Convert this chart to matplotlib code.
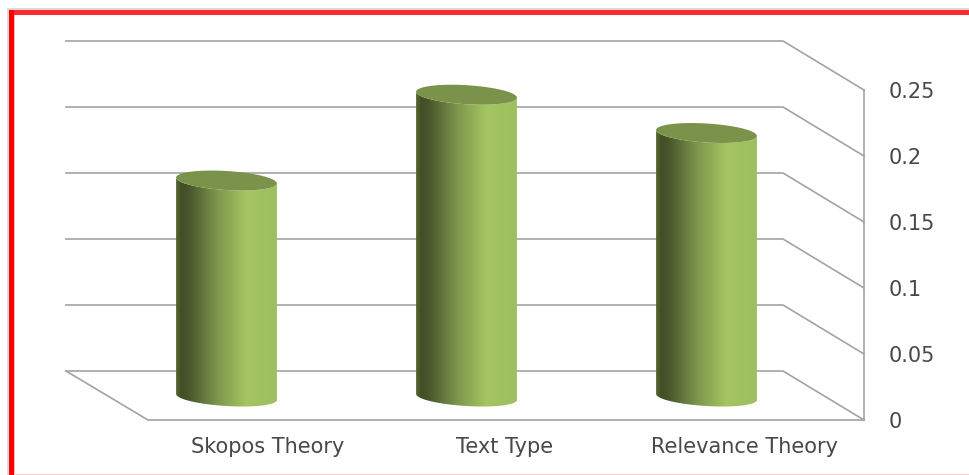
import numpy as np
import matplotlib
matplotlib.use("Agg")
import matplotlib.pyplot as plt
from matplotlib.colors import LinearSegmentedColormap
from matplotlib.patches import Polygon, Rectangle

categories = ["Skopos Theory", "Text Type", "Relevance Theory"]
values = [0.164, 0.229, 0.2]
tick_values = [0, 0.05, 0.1, 0.15, 0.2, 0.25]
tick_labels = ["0", "0.05", "0.1", "0.15", "0.2", "0.25"]

W, H = 970, 475
CAT_X0, CAT_STEP = 226, 240      # pixel column of first cylinder, spacing
BASE_Y, PX_PER_UNIT = 397, 1320  # pixel row of the cylinder base, scale of the value axis

fig = plt.figure(figsize=(W / 100, H / 100), dpi=100, facecolor="white")
ax = fig.add_axes([0, 0, 1, 1])
ax.set_axis_off()
xlim = ((0 - CAT_X0) / CAT_STEP, (W - CAT_X0) / CAT_STEP)
ylim = ((BASE_Y - H) / PX_PER_UNIT, BASE_Y / PX_PER_UNIT)


def dx(px):
    return px / CAT_STEP


def dy(px):
    return px / PX_PER_UNIT


def col(px):
    return (px - CAT_X0) / CAT_STEP


def row(px):
    return (BASE_Y - px) / PX_PER_UNIT


# 3D box: back wall, side wall and floor
BACK_LIFT, FRONT_DROP = 26, 23
WALL_L, WALL_R, FRONT_L, FRONT_R = col(66), col(783), col(148), col(864)
grid_kw = dict(color="#a3a3a3", lw=1.2, solid_joinstyle="miter", zorder=1)
for v in tick_values:
    back = v + dy(BACK_LIFT)
    front = v - dy(FRONT_DROP)
    ax.plot([WALL_L, WALL_R, FRONT_R], [back, back, front], **grid_kw)
floor_back = dy(BACK_LIFT)
floor_front = -dy(FRONT_DROP)
ax.plot([WALL_L, FRONT_L, FRONT_R], [floor_back, floor_front, floor_front], **grid_kw)
ax.plot([FRONT_R, FRONT_R], [floor_front, tick_values[-1] - dy(FRONT_DROP)], **grid_kw)

# Tick labels on the side wall and category labels under the floor
text_kw = dict(family="DejaVu Sans", color="#484848", fontsize=15)
for v, lab in zip(tick_values, tick_labels):
    ax.text(col(889), v - dy(FRONT_DROP), lab, ha="left", va="center_baseline", **text_kw)
for i, name in enumerate(categories):
    offset = [42, 39, 39][i]
    ax.text(i + dx(offset), row(447), name, ha="center", va="center", **text_kw)

# Cylinders: horizontal shading clipped to the silhouette, plus a flat lid
shade = LinearSegmentedColormap.from_list(
    "cyl",
    [(0.0, "#566731"), (0.05, "#434f26"), (0.11, "#465329"), (0.42, "#7f994d"),
     (0.70, "#a4c562"), (1.0, "#9ebf5d")],
)
RX, RY_TOP, RY_BOT, TILT = 50.5, 9.5, 9.0, np.deg2rad(3.5)


def ellipse(cx, cy, ry, t):
    """Tilted ellipse outline in data units; t is the parameter angle."""
    ex, ey = RX * np.cos(t), ry * np.sin(t)
    xp = ex * np.cos(TILT) + ey * np.sin(TILT)
    yp = ex * np.sin(TILT) - ey * np.cos(TILT)  # positive is towards the lower right
    return cx + dx(xp), cy - dy(yp)


gradient = np.linspace(0, 1, 256).reshape(1, -1)
for i, v in enumerate(values):
    cx = i + dx(0.5)
    lower = np.linspace(np.pi, 2 * np.pi, 80)
    t_all = np.linspace(0, 2 * np.pi, 160)
    bx, by = ellipse(cx, 0, RY_BOT, lower)
    tx, ty = ellipse(cx, v, RY_TOP, lower)
    body = np.column_stack([np.r_[bx, tx[::-1]], np.r_[by, ty[::-1]]])
    clip = Polygon(body, closed=True, transform=ax.transData, fc="none", ec="none")
    ax.add_patch(clip)
    im = ax.imshow(
        gradient, cmap=shade, aspect="auto", zorder=2, interpolation="bilinear",
        extent=[cx - dx(RX), cx + dx(RX), -dy(RY_BOT * 2), v + dy(RY_TOP * 2)],
    )
    im.set_clip_path(clip)
    lx, ly = ellipse(cx, v, RY_TOP, t_all)
    ax.add_patch(Polygon(np.column_stack([lx, ly]), closed=True, fc="#7a9249",
                         ec="none", zorder=3))

# Picture frame: red rule at the top and left, faint one along the bottom
frame = [
    (7, 8, W - 7, 2, "#d9d9d9"),
    (7, 8, 2, H - 8, "#d9d9d9"),
    (9, 10, W - 9, 5, "#fb2a2e"),
    (9, 10, 5, H - 10, "#ff0000"),
    (14, 15, 1.5, H - 15, "#ffb9b9"),
    (14, 473.5, W - 14, 1.5, "#ffc9cb"),
]
for x, y, w, h, c in frame:
    ax.add_patch(Rectangle((col(x), row(y + h)), dx(w), dy(h), fc=c, ec="none", zorder=5))

ax.set_xlim(*xlim)
ax.set_ylim(*ylim)
fig.savefig("out.png", dpi=100, facecolor="white")
